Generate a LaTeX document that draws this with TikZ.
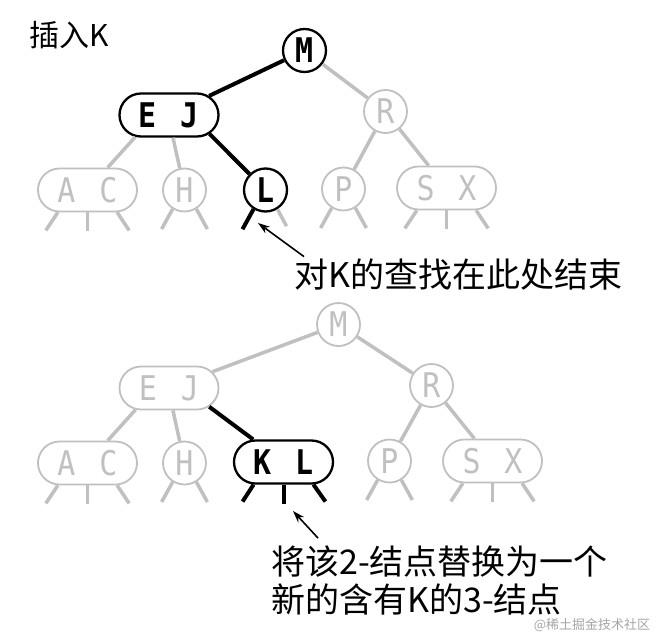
\documentclass[tikz,border=0pt]{standalone}
\usepackage{fontspec}
\usepackage{tikz}
\usetikzlibrary{shapes.misc,calc,arrows.meta}
\newfontfamily\cjk{Noto Sans CJK SC}
\newfontfamily\keyfont[FakeStretch=0.88]{DejaVu Sans Mono}
\definecolor{fadedgray}{RGB}{192,192,192}
\newcommand{\twokeys}[2]{\makebox[42pt]{\makebox[0pt]{#1}\hfill\makebox[0pt]{#2}}}
\tikzset{
	two/.style={circle,draw,minimum size=43pt,inner sep=0pt,line width=2.3pt,
		font=\keyfont\bfseries\fontsize{34}{34}\selectfont},
	three/.style={rounded rectangle,draw,minimum width=99pt,minimum height=43pt,
		inner sep=0pt,line width=2.3pt,font=\keyfont\bfseries\fontsize{34}{34}\selectfont},
	faded/.style={draw=fadedgray,text=fadedgray,line width=1.8pt,
		font=\keyfont\fontsize{34}{34}\selectfont},
	link/.style={line width=4pt},
	fadedlink/.style={line width=3.5pt,draw=fadedgray},
	note/.style={font=\cjk\fontsize{34}{34}\selectfont,inner sep=0pt,anchor=base west},
	ptr/.style={line width=1.6pt,-{Stealth[length=12pt,width=8pt]}}
}
\begin{document}
\begin{tikzpicture}[x=1pt,y=-1pt]
	\fill[white] (0,0) rectangle (666,637);
	\useasboundingbox (0,0) rectangle (666,637);
	\node[note,font=\cjk\fontsize{30}{30}\selectfont] (title) at (29,46) {插入K};

	% search path
	\node[two] (mT) at (304.5,50.5) {M};
	\node[three] (ejT) at (169,115) {\twokeys{E}{J}};
	\node[two,faded] (rT) at (385.5,111.5) {R};
	\node[three,faded] (acT) at (87.5,190) {\twokeys{A}{C}};
	\node[two,faded] (hT) at (184.5,190) {H};
	\node[two] (lT) at (265.5,190) {L};
	\node[two,faded] (pT) at (343.5,189) {P};
	\node[three,faded] (sxT) at (446.5,188) {\twokeys{S}{X}};

	\draw[link] (mT) -- (ejT);
	\draw[fadedlink] (mT) -- (rT);
	\draw[fadedlink] (ejT.-147) -- (acT);
	\draw[fadedlink] (ejT.-80) -- (hT);
	\draw[link] (ejT.-25) -- (lT);
	\draw[fadedlink] (rT) -- (pT);
	\draw[fadedlink] (rT) -- (sxT);

	\foreach \n in {hT,pT}{
		\draw[fadedlink] (\n.-122) -- ++(-11,20);
		\draw[fadedlink] (\n.-58) -- ++(11,20);
	}
	\foreach \n in {acT,sxT}{
		\draw[fadedlink] (\n.-143) -- ++(-12,18);
		\draw[fadedlink] (\n.south) -- ++(0,19);
		\draw[fadedlink] (\n.-37) -- ++(12,18);
	}
	\draw[link] (lT.-122) -- ++(-11,20);
	\draw[fadedlink] (lT.-58) -- ++(9,17);

	\coordinate (hitT) at (258,223);
	\node[note] (noteT) at (294,287.5) {对K的查找在此处结束};
	\draw[ptr] ($(noteT.north west)+(10,-2)$) -- (hitT);

	% after the insertion
	\node[two,faded] (mB) at (338.5,324.5) {M};
	\node[three,faded] (ejB) at (169,388) {\twokeys{E}{J}};
	\node[two,faded] (rB) at (431.5,385.5) {R};
	\node[three,faded] (acB) at (87.5,463) {\twokeys{A}{C}};
	\node[two,faded] (hB) at (184.5,463) {H};
	\node[three] (klB) at (283.5,462) {\twokeys{K}{L}};
	\node[two,faded] (pB) at (389.5,461) {P};
	\node[three,faded] (sxB) at (492.5,461) {\twokeys{S}{X}};

	\draw[fadedlink] (mB) -- (ejB);
	\draw[fadedlink] (mB) -- (rB);
	\draw[fadedlink] (ejB.-147) -- (acB);
	\draw[fadedlink] (ejB.-80) -- (hB);
	\draw[link] (ejB.-25) -- (klB);
	\draw[fadedlink] (rB) -- (pB);
	\draw[fadedlink] (rB) -- (sxB);

	\foreach \n in {hB,pB}{
		\draw[fadedlink] (\n.-122) -- ++(-11,20);
		\draw[fadedlink] (\n.-58) -- ++(11,20);
	}
	\foreach \n in {acB,sxB}{
		\draw[fadedlink] (\n.-143) -- ++(-12,18);
		\draw[fadedlink] (\n.south) -- ++(0,19);
		\draw[fadedlink] (\n.-37) -- ++(12,18);
	}
	\draw[link] (klB.-143) -- ++(-11,17);
	\draw[link] (klB.south) -- ++(0,19);
	\draw[link] (klB.-37) -- ++(12,17);

	\node[font=\cjk\fontsize{13}{13}\selectfont,text=black!35,inner sep=0pt] (mark) at (592,625) {@稀土掘金技术社区};
	\coordinate (hitB) at (293,511);
	\node[note] (noteB) at (271,574) {将该2-结点替换为一个};
	\node[note] (noteC) at (271,612) {新的含有K的3-结点};
	\draw[ptr] ($(noteB.north west)+(47,-7)$) -- (hitB);
\end{tikzpicture}
\end{document}
